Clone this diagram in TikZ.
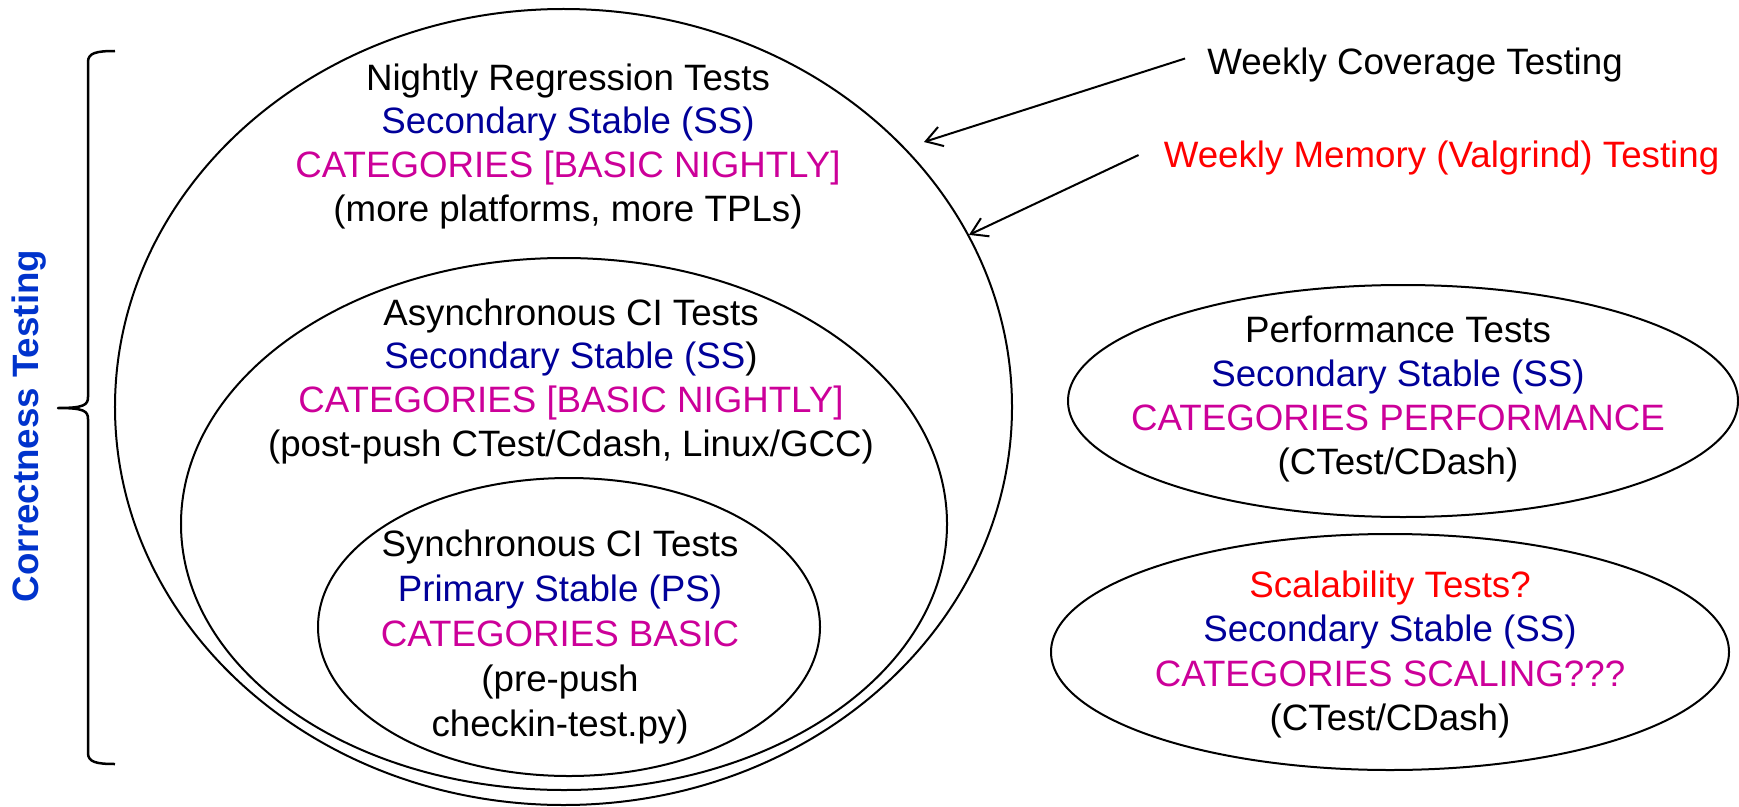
\documentclass[tikz,border=0pt]{standalone}
\usepackage{fontspec}
\setmainfont{Liberation Sans}
\usetikzlibrary{shapes.geometric,arrows.meta}
\definecolor{navy}{RGB}{0,0,153}
\definecolor{magen}{RGB}{204,0,153}
\definecolor{redt}{RGB}{255,0,0}
\definecolor{ctblue}{RGB}{0,51,204}
\begin{document}
\begin{tikzpicture}[x=1bp,y=-1bp,
  oval/.style={draw,ellipse,line width=2bp,inner sep=0pt},
  txt/.style={anchor=base,inner sep=0pt,font=\fontsize{36.7bp}{44bp}\selectfont},
  lbl/.style={inner ysep=0pt,font=\fontsize{36.7bp}{44bp}\selectfont},
  arr/.style={line width=2bp,-{Straight Barb[length=16bp,width=20bp]}},
  bracestyle/.style={line width=2.5bp,line join=round}]
\useasboundingbox (0,0) rectangle (1739,807);

% ellipses
\node[oval,minimum width=897bp,minimum height=796bp] (outer) at (563.5,407) {};
\node[oval,minimum width=766bp,minimum height=532bp] (mid) at (564,524) {};
\node[oval,minimum width=502bp,minimum height=298bp] (inner) at (569,627) {};
\node[oval,minimum width=670bp,minimum height=232bp] (perf) at (1403,401) {};
\node[oval,minimum width=678bp,minimum height=236bp] (scal) at (1390,652) {};

% nightly
\node[txt] (n1) at (568,90) {Nightly Regression Tests};
\node[txt,text=navy] (n2) at (568,133.7) {Secondary Stable (SS)};
\node[txt,text=magen] (n3) at (568,177.4) {CATEGORIES [BASIC NIGHTLY]};
\node[txt] (n4) at (568,221.1) {(more platforms, more TPLs)};

% asynchronous
\node[txt] (a1) at (571,325) {Asynchronous CI Tests};
\node[txt] (a2) at (571,368.7) {\textcolor{navy}{Secondary Stable (SS}{)}};
\node[txt,text=magen] (a3) at (571,412.4) {CATEGORIES [BASIC NIGHTLY]};
\node[txt] (a4) at (571,456.1) {(post-push CTest/Cdash, Linux/GCC)};

% synchronous
\node[txt] (s1) at (560,556) {Synchronous CI Tests};
\node[txt,text=navy] (s2) at (560,601) {Primary Stable (PS)};
\node[txt,text=magen] (s3) at (560,646) {CATEGORIES BASIC};
\node[txt] (s4) at (560,691) {(pre-push};
\node[txt] (s5) at (560,736) {checkin-test.py)};

% performance
\node[txt] (p1) at (1398,342) {Performance Tests};
\node[txt,text=navy] (p2) at (1398,386) {Secondary Stable (SS)};
\node[txt,text=magen] (p3) at (1398,430) {CATEGORIES PERFORMANCE};
\node[txt] (p4) at (1398,474) {(CTest/CDash)};

% scalability
\node[txt,text=redt] (c1) at (1390,597) {Scalability Tests?};
\node[txt,text=navy] (c2) at (1390,641.5) {Secondary Stable (SS)};
\node[txt,text=magen] (c3) at (1390,686) {CATEGORIES SCALING???};
\node[txt] (c4) at (1390,730.5) {(CTest/CDash)};

% weekly labels
\node[lbl,inner xsep=22bp] (cov) at (1415,65.5) {Weekly Coverage Testing};
\node[lbl,inner xsep=25bp,text=redt] (mem) at (1441.5,158.5) {Weekly Memory (Valgrind) Testing};
\coordinate (covtip) at (924,142);
\draw[arr] ([yshift=7bp]cov.west) -- (covtip);
\draw[arr] ([yshift=3.5bp]mem.west) -- (outer.23);

% brace and side label
\coordinate (bt) at (115,51);
\coordinate (bm) at (58,408);
\coordinate (bb) at (115,764);
\draw[bracestyle] (bt) .. controls (96,51) and (88,53) .. (88,62) -- (88,397)
  .. controls (88,405) and (84,408) .. (bm)
  .. controls (84,408) and (88,411) .. (88,419) -- (88,753)
  .. controls (88,762) and (96,764) .. (bb);
\node[rotate=90,inner sep=0pt,text=ctblue,font=\fontsize{36.7bp}{44bp}\selectfont\bfseries] (ct) at (29,426) {Correctness Testing};
\end{tikzpicture}
\end{document}
